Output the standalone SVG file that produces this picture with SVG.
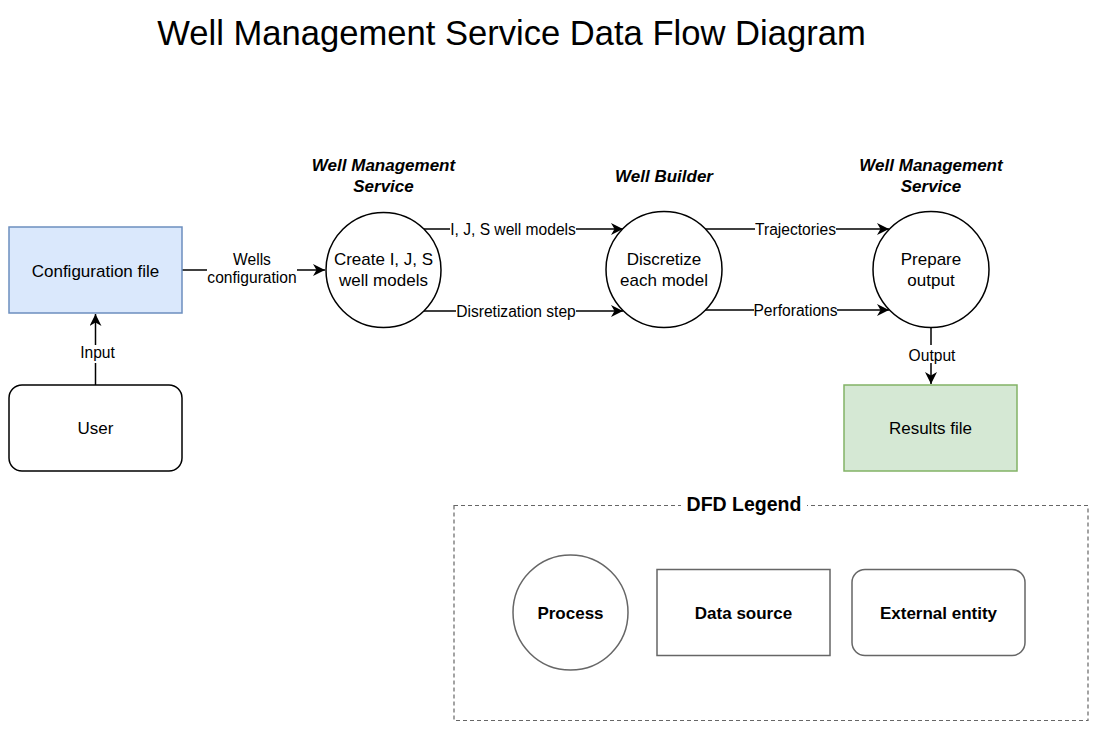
<svg xmlns="http://www.w3.org/2000/svg" width="1095" height="729" viewBox="0 0 1095 729">
<defs>
<marker id="arr" markerUnits="userSpaceOnUse" markerWidth="13" markerHeight="12" refX="12" refY="6" orient="auto">
<path d="M0,0 L12,6 L0,12 L3.5,6 Z" fill="#000"/>
</marker>
<style>
text{font-family:"Liberation Sans",Arial,Helvetica,sans-serif;fill:#000;text-anchor:middle}
.title{font-size:34.6px}
.node{font-size:17px}
.hdr{font-size:17px;font-weight:bold;font-style:italic}
.lbl{font-size:15.6px}
.leg{font-size:17px;font-weight:bold}
.proc{fill:#fff;stroke:#000;stroke-width:1.5}
.ext{fill:#fff;stroke:#000;stroke-width:1.5}
.edge{fill:none;stroke:#000;stroke-width:1.5}
.bg{fill:#fff;stroke:none}
.lgs{fill:#fff;stroke:#666;stroke-width:1.5}
</style>
</defs>
<rect width="1095" height="729" fill="#fff"/>
<text class="title" x="511.5" y="45">Well Management Service Data Flow Diagram</text>

<g id="connectors">
<path class="edge" d="M182,270 L325,270" marker-end="url(#arr)"/>
<path class="edge" d="M95.5,385 L95.5,314" marker-end="url(#arr)"/>
<path class="edge" d="M424,229 L623,229" marker-end="url(#arr)"/>
<path class="edge" d="M424,311 L623,311" marker-end="url(#arr)"/>
<path class="edge" d="M705,229 L889,229" marker-end="url(#arr)"/>
<path class="edge" d="M705,310 L889,310" marker-end="url(#arr)"/>
<path class="edge" d="M931,327.5 L931,384" marker-end="url(#arr)"/>
<rect class="bg" x="207" y="250" width="90" height="38"/>
<text class="lbl" x="252" y="265">Wells</text>
<text class="lbl" x="252" y="283">configuration</text>
<rect class="bg" x="79" y="345" width="36" height="18"/>
<text class="lbl" x="97.5" y="358">Input</text>
<rect class="bg" x="450" y="220" width="126" height="18"/>
<text class="lbl" x="513" y="234.5">I, J, S well models</text>
<rect class="bg" x="456" y="302" width="120" height="18"/>
<text class="lbl" x="516" y="316.5">Disretization step</text>
<rect class="bg" x="755" y="220" width="81" height="18"/>
<text class="lbl" x="795.5" y="234.5">Trajectories</text>
<rect class="bg" x="754" y="301" width="83" height="18"/>
<text class="lbl" x="795.5" y="315.5">Perforations</text>
<rect class="bg" x="908" y="345" width="48" height="18"/>
<text class="lbl" x="932" y="360.5">Output</text>
</g>

<g id="config-file">
<rect x="9" y="227" width="173" height="86" fill="#dae8fc" stroke="#6c8ebf" stroke-width="1.5"/>
<text class="node" x="95.5" y="276.5">Configuration file</text>
</g>
<g id="user">
<rect class="ext" x="9" y="385" width="173" height="86" rx="13" ry="13"/>
<text class="node" x="95.5" y="434">User</text>
</g>
<g id="create-models">
<text class="hdr" x="383.5" y="171">Well Management</text>
<text class="hdr" x="383.5" y="192">Service</text>
<circle class="proc" cx="383.5" cy="270" r="57.5"/>
<text class="node" x="383.5" y="265">Create I, J, S</text>
<text class="node" x="383.5" y="286">well models</text>
</g>
<g id="discretize">
<text class="hdr" x="664" y="182">Well Builder</text>
<circle class="proc" cx="664" cy="269.5" r="58"/>
<text class="node" x="664" y="265">Discretize</text>
<text class="node" x="664" y="285.5">each model</text>
</g>
<g id="prepare-output">
<text class="hdr" x="931" y="171">Well Management</text>
<text class="hdr" x="931" y="192">Service</text>
<circle class="proc" cx="931" cy="269.5" r="58"/>
<text class="node" x="931" y="265">Prepare</text>
<text class="node" x="931" y="285.5">output</text>
</g>
<g id="results-file">
<rect x="844" y="385" width="173" height="86" fill="#d5e8d4" stroke="#82b366" stroke-width="1.5"/>
<text class="node" x="930.5" y="434">Results file</text>
</g>

<g id="legend">
<rect x="454" y="505.5" width="634" height="215" fill="none" stroke="#666" stroke-width="1.2" stroke-dasharray="4 3"/>
<rect class="bg" x="681" y="493" width="126" height="24"/>
<text x="744" y="511" style="font-size:19.5px;font-weight:bold">DFD Legend</text>
<g id="legend-process">
<circle class="lgs" cx="570.5" cy="612.5" r="57.5"/>
<text class="leg" x="570.5" y="619">Process</text>
</g>
<g id="legend-data-source">
<rect class="lgs" x="657" y="569.5" width="173" height="86"/>
<text class="leg" x="743.5" y="619">Data source</text>
</g>
<g id="legend-external">
<rect class="lgs" x="852" y="569.5" width="173" height="86" rx="13" ry="13"/>
<text class="leg" x="938.5" y="619">External entity</text>
</g>
</g>
</svg>
